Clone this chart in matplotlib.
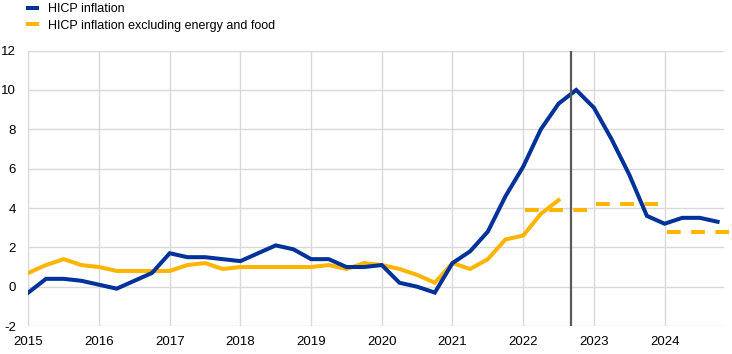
import numpy as np
import matplotlib
matplotlib.use('Agg')
import matplotlib.pyplot as plt

plt.rcParams['font.family'] = ['Liberation Sans', 'DejaVu Sans']
plt.rcParams['axes.unicode_minus'] = False

# Quarterly data, 2015 Q1 - 2024 Q4 (annual % changes)
start_year = 2015
hicp = [-0.3, 0.4, 0.4, 0.3,
        0.1, -0.1, 0.3, 0.7,
        1.7, 1.5, 1.5, 1.4,
        1.3, 1.7, 2.1, 1.9,
        1.4, 1.4, 1.0, 1.0,
        1.1, 0.2, 0.0, -0.3,
        1.2, 1.8, 2.8, 4.6,
        6.1, 8.0, 9.3, 10.0,
        9.1, 7.5, 5.7, 3.6,
        3.2, 3.5, 3.5, 3.3]
hicpx = [0.7, 1.1, 1.4, 1.1,
         1.0, 0.8, 0.8, 0.8,
         0.8, 1.1, 1.2, 0.9,
         1.0, 1.0, 1.0, 1.0,
         1.0, 1.1, 0.9, 1.2,
         1.1, 0.9, 0.6, 0.2,
         1.2, 0.9, 1.4, 2.4,
         2.6, 3.7, 4.4]

# annual averages for HICPX (dashed segments)
proj_years = [2022, 2023, 2024]
proj_hicpx = [3.9, 4.2, 2.8]

cutoff = 2022.67
years = list(range(2015, 2025))

blue = '#003299'
yellow = '#ffb400'

x_hicp = start_year + np.arange(len(hicp)) * 0.25
x_hicpx = start_year + np.arange(len(hicpx)) * 0.25

fig = plt.figure(figsize=(7.32, 3.54), dpi=100)
ax = fig.add_axes([0.0387, 0.079, 0.9503, 0.778])

ax.plot(x_hicp, hicp, color=blue, lw=2.9, solid_joinstyle='miter', label='HICP inflation', zorder=4)
ax.plot(x_hicpx, hicpx, color=yellow, lw=2.9, solid_joinstyle='miter',
        label='HICP inflation excluding energy and food', zorder=3)
for yr, v in zip(proj_years, proj_hicpx):
    ax.plot([yr + 0.03, yr + 11 / 12], [v, v], color=yellow, lw=2.9,
            dashes=(3.4, 2.6), dash_capstyle='butt', clip_on=False, zorder=3)

ax.axvline(cutoff, color='#595959', lw=1.6, zorder=5)

ax.set_xlim(2015, 2024.84)
ax.set_ylim(-2, 12)
ax.set_xticks(years)
ax.set_xticklabels([str(y) for y in years])
ax.set_yticks(range(-2, 13, 2))
ax.grid(True, color='#d9d9d9', lw=1)
ax.set_axisbelow(True)
for s in ax.spines.values():
    s.set_visible(False)
ax.tick_params(length=0, labelsize=9.5, pad=7, colors='black')
ax.tick_params(axis='y', pad=9)

ax.legend(loc='upper left', bbox_to_anchor=(0.036, 0.994), bbox_transform=fig.transFigure,
          frameon=False, fontsize=9, handlelength=0.75, handletextpad=0.85,
          labelspacing=0.35, borderaxespad=0, borderpad=0.1)

plt.savefig('out.png', dpi=100)
